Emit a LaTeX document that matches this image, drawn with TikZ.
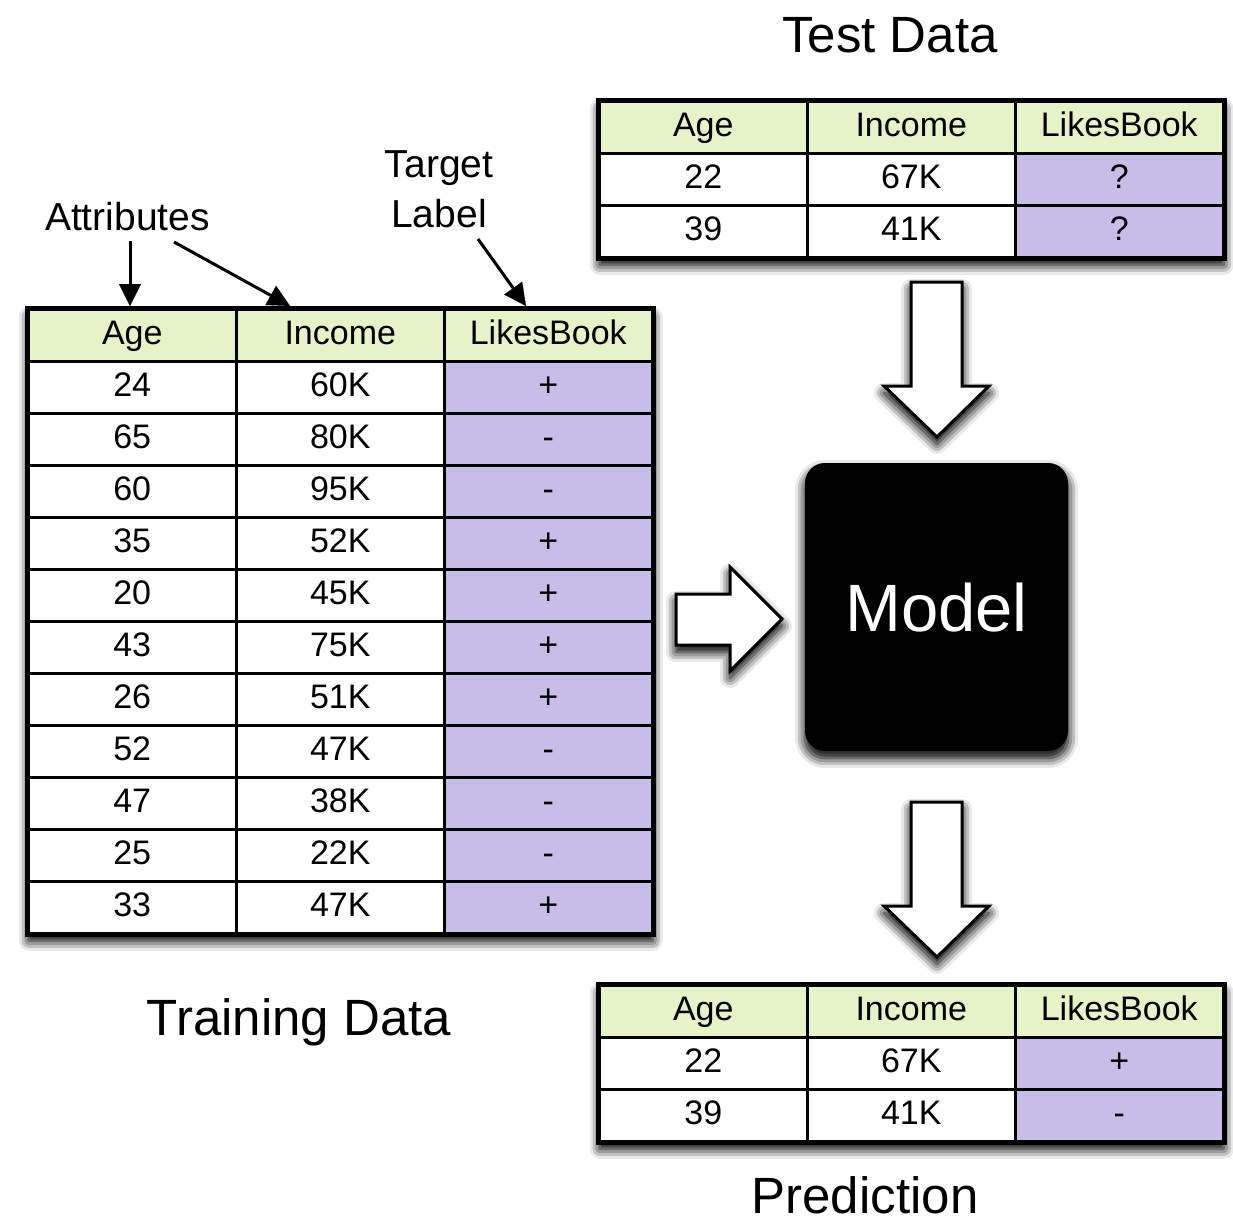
\documentclass[tikz,border=0pt]{standalone}
\usepackage{fontspec}
\setmainfont{Liberation Sans}
\usetikzlibrary{arrows.meta,shadows.blur}
\definecolor{hdrgreen}{RGB}{229,243,198}
\definecolor{lblpurple}{RGB}{199,190,231}
\tikzset{
  cellbox/.style={draw, line width=2.5pt, minimum width=208pt, minimum height=52pt, inner sep=0pt,
    text height=25pt, text depth=7pt, font=\fontsize{34}{40}\selectfont, anchor=north west},
  hdrcell/.style={cellbox, fill=hdrgreen},
  valcell/.style={cellbox, fill=white},
  labcell/.style={cellbox, fill=lblpurple},
  softshadow/.style={
    blur shadow={shadow xshift=0pt, shadow yshift=-9pt, shadow blur radius=16pt, shadow opacity=85},
    blur shadow={shadow xshift=0pt, shadow yshift=-7pt, shadow blur radius=10pt, shadow opacity=70}},
  tablebox/.style={draw, line width=3.5pt, fill=white, inner sep=0pt, minimum width=624pt, anchor=north west, softshadow},
  blockarrow/.style={draw, line width=3pt, fill=white, line join=miter, softshadow},
  pointer/.style={line width=3pt, -{Triangle[length=22pt,width=22pt,fill=black,line width=0.1pt]}},
  modelbox/.style={fill=black, rounded corners=20pt, minimum width=263pt, minimum height=288pt, inner sep=0pt,
    text=white, font=\fontsize{67}{70}\selectfont, text height=48pt, text depth=0pt, softshadow},
  lbl/.style={font=\fontsize{39}{50}\selectfont, align=center},
  title/.style={font=\fontsize{51}{55}\selectfont, anchor=base},
}
\begin{document}
\begin{tikzpicture}[x=1pt,y=-1pt]
\useasboundingbox (0,0) rectangle (1233,1218);

% ---------- Training table ----------
\node[tablebox, minimum height=624pt] (train) at (27,308) {};
\node[hdrcell] (tr-h1) at (27,308) {Age};
\node[hdrcell] (tr-h2) at (235,308) {Income};
\node[hdrcell] (tr-h3) at (443,308) {LikesBook};
\foreach \a/\b/\c [count=\i] in {24/60K/+,65/80K/-,60/95K/-,35/52K/+,20/45K/+,43/75K/+,26/51K/+,52/47K/-,47/38K/-,25/22K/-,33/47K/+}{
  \pgfmathsetmacro\yy{308+52*\i}
  \node[valcell] (tr-\i-1) at (27,\yy) {\a};
  \node[valcell] (tr-\i-2) at (235,\yy) {\b};
  \node[labcell] (tr-\i-3) at (443,\yy) {\c};
}
\draw[line width=3.5pt] (train.north west) rectangle (train.south east);

% ---------- Test table ----------
\node[tablebox, minimum height=156pt] (test) at (598,100) {};
\node[hdrcell] (te-h1) at (598,100) {Age};
\node[hdrcell] (te-h2) at (806,100) {Income};
\node[hdrcell] (te-h3) at (1014,100) {LikesBook};
\foreach \a/\b/\c [count=\i] in {22/67K/?,39/41K/?}{
  \pgfmathsetmacro\yy{100+52*\i}
  \node[valcell] (te-\i-1) at (598,\yy) {\a};
  \node[valcell] (te-\i-2) at (806,\yy) {\b};
  \node[labcell] (te-\i-3) at (1014,\yy) {\c};
}
\draw[line width=3.5pt] (test.north west) rectangle (test.south east);

% ---------- Prediction table ----------
\node[tablebox, minimum height=156pt] (pred) at (598,984) {};
\node[hdrcell] (pr-h1) at (598,984) {Age};
\node[hdrcell] (pr-h2) at (806,984) {Income};
\node[hdrcell] (pr-h3) at (1014,984) {LikesBook};
\foreach \a/\b/\c [count=\i] in {22/67K/+,39/41K/-}{
  \pgfmathsetmacro\yy{984+52*\i}
  \node[valcell] (pr-\i-1) at (598,\yy) {\a};
  \node[valcell] (pr-\i-2) at (806,\yy) {\b};
  \node[labcell] (pr-\i-3) at (1014,\yy) {\c};
}
\draw[line width=3.5pt] (pred.north west) rectangle (pred.south east);

% ---------- Model ----------
\node[modelbox] (model) at (936.5,607) {Model};

% ---------- Block arrows ----------
\draw[blockarrow] (911,282) -- (962,282) -- (962,386) -- (989,386) -- (937,437)
  -- (884,386) -- (911,386) -- cycle;
\draw[blockarrow] (911,802) -- (962,802) -- (962,906) -- (989,906) -- (937,957)
  -- (884,906) -- (911,906) -- cycle;
\draw[blockarrow] (676,594) -- (730,594) -- (730,567) -- (782,619) -- (730,671)
  -- (730,645) -- (676,645) -- cycle;

% ---------- Titles ----------
\node[title] (ttest) at (890,52) {Test Data};
\node[title] (ttrain) at (299,1035) {Training Data};
\node[title] (tpred) at (865,1213) {Prediction};

% ---------- Pointer labels ----------
\node[lbl, anchor=base] (attr) at (127.5,230) {Attributes};
\node[lbl] (target) at (439,189) {Target\\Label};
\coordinate (a1s) at (130,241);
\coordinate (a1e) at (130,306);
\coordinate (a2s) at (174,242);
\coordinate (a2e) at (290,306);
\coordinate (t1s) at (478,239);
\coordinate (t1e) at (526,306);
\draw[pointer] (a1s) -- (a1e);
\draw[pointer] (a2s) -- (a2e);
\draw[pointer] (t1s) -- (t1e);
\end{tikzpicture}
\end{document}
